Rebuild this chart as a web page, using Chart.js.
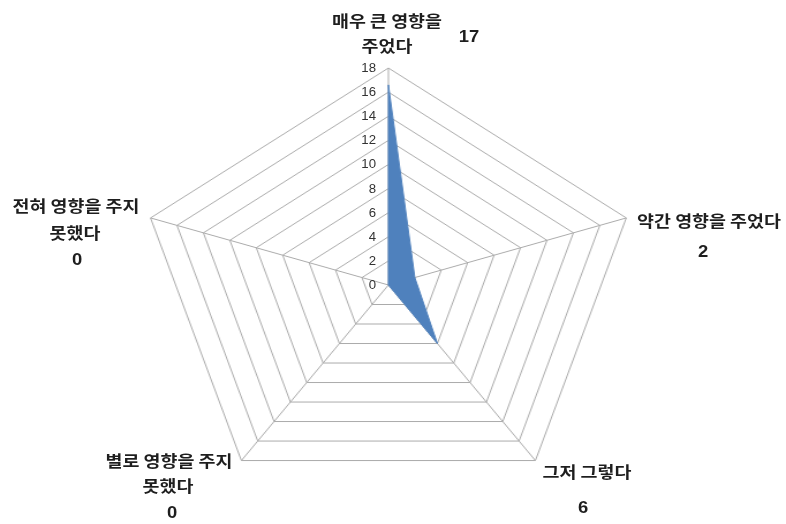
<!DOCTYPE html>
<html><head><meta charset="utf-8">
<script src="https://cdn.jsdelivr.net/npm/chart.js@4"></script>
<style>
html,body{margin:0;padding:0;background:#fff;width:786px;height:524px;overflow:hidden}
#wrap{position:absolute;left:0;top:0;width:682px;height:524px;transform:scaleX(1.1525);transform-origin:0 0}
#labels{position:absolute;left:0;top:0;width:786px;height:524px}
.t{position:absolute;transform:translate(-50%,-50%) scaleX(1.15);white-space:nowrap;font-family:"Noto Sans CJK KR";font-size:16px;font-weight:700;color:#1e1e1e;line-height:1}
.n{font-family:"Liberation Sans",Arial,sans-serif;font-size:16px;font-weight:700}
.tick{position:absolute;transform-origin:100% 50%;transform:translate(-100%,-50%) scaleX(1.1);white-space:nowrap;font-family:"Liberation Sans",Arial,sans-serif;font-size:12px;color:#333;line-height:1}
</style>
</head><body>
<div id="wrap"><canvas id="c" width="682" height="524"></canvas></div>
<div id="labels"></div>
<script>
// ---- data ----
const categories = [
  ['매우 큰 영향을', '주었다'],
  ['약간 영향을 주었다'],
  ['그저 그렇다'],
  ['별로 영향을 주지', '못했다'],
  ['전혀 영향을 주지', '못했다']
];
const values = [16.6, 2, 6, 0, 0];
const scaleMin = 0;
const scaleMax = 18;
const scaleStep = 2;

// ---- layout (offsets of label texts from each axis end, page px) ----
const STRETCH = 1.1525;
const labelLayout = [
  {lines: [[-1, -48], [-1, -23]], num: [81, -31]},
  {lines: [[83, 2]], num: [77, 34]},
  {lines: [[52, 10]], num: [48, 47]},
  {lines: [[-72, -1], [-73, 24]], num: [-69, 52]},
  {lines: [[-75, -13], [-76, 14]], num: [-74, 42]}
];

const chart = new Chart(document.getElementById('c'), {
  type: 'radar',
  data: {
    labels: categories.map(c => c.join(' ')),
    datasets: [{
      data: values,
      backgroundColor: '#4F81BD',
      borderColor: '#4F81BD',
      borderWidth: 1,
      pointRadius: 0,
      pointHoverRadius: 0,
      fill: true
    }]
  },
  options: {
    responsive: false,
    animation: false,
    devicePixelRatio: 1,
    layout: {padding: {top: 68, bottom: 22, left: 120, right: 128}},
    plugins: {legend: {display: false}, tooltip: {enabled: false}},
    scales: {
      r: {
        min: scaleMin,
        max: scaleMax,
        beginAtZero: true,
        ticks: {stepSize: scaleStep, display: false, showLabelBackdrop: false},
        pointLabels: {display: false},
        grid: {color: '#ababab', lineWidth: 1},
        angleLines: {color: '#ababab', lineWidth: 1}
      }
    }
  }
});

// ---- text overlay from scale geometry ----
const scale = chart.scales.r;
const box = document.getElementById('labels');
function add(cls, text, x, y) {
  const d = document.createElement('div');
  d.className = cls;
  d.textContent = text;
  d.style.left = x + 'px';
  d.style.top = y + 'px';
  box.appendChild(d);
}
const cxPage = scale.xCenter * STRETCH;
scale.ticks.forEach(t => {
  const y = scale.yCenter - scale.getDistanceFromCenterForValue(t.value);
  add('tick', String(t.value), cxPage - 12, y);
});
categories.forEach((lines, i) => {
  const p = scale.getPointPosition(i, scale.drawingArea);
  const vx = p.x * STRETCH, vy = p.y;
  const L = labelLayout[i];
  lines.forEach((txt, j) => add('t', txt, vx + L.lines[j][0], vy + L.lines[j][1]));
  add('t n', String(Math.round(values[i])), vx + L.num[0], vy + L.num[1]);
});
</script>
</body></html>
